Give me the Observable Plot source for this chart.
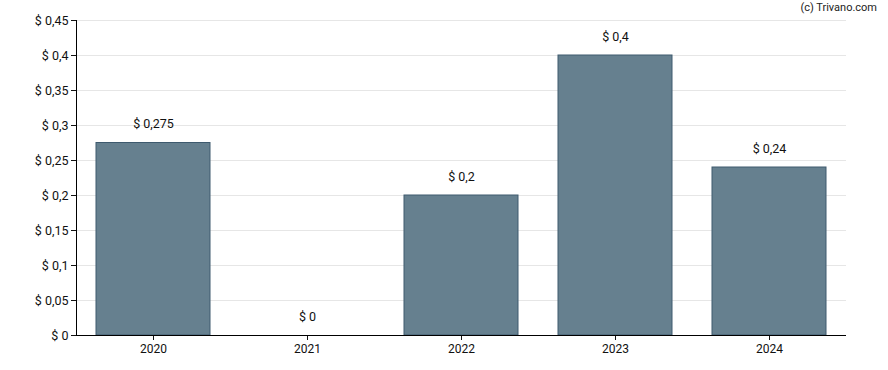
<!DOCTYPE html>
<html>
<head>
<meta charset="utf-8">
<script src="https://cdn.jsdelivr.net/npm/d3@7"></script>
<script src="https://cdn.jsdelivr.net/npm/@observablehq/plot@0.6"></script>
<style>
  html, body { margin: 0; padding: 0; background: #fff; }
  #wrap { position: relative; width: 888px; height: 370px; font-family: Roboto, "Liberation Sans", sans-serif; }
  #credit { position: absolute; right: 11px; top: 1px; font-size: 11px; color: #222; }
  svg { display: block; }
</style>
</head>
<body>
<div id="wrap">
  <div id="credit">(c) Trivano.com</div>
</div>
<script>
const years = ["2020", "2021", "2022", "2023", "2024"];
const dividends = [0.275, 0, 0.2, 0.4, 0.24];
const yTicks = [0, 0.05, 0.1, 0.15, 0.2, 0.25, 0.3, 0.35, 0.4, 0.45];

const data = years.map((y, i) => ({year: y, value: dividends[i]}));
const fmt = v => "$ " + String(+v.toFixed(3)).replace(".", ",");

const chart = Plot.plot({
  width: 888,
  height: 370,
  marginLeft: 76,
  marginRight: 42,
  marginTop: 20,
  marginBottom: 35,
  style: {fontFamily: "Roboto, 'Liberation Sans', sans-serif", fontSize: "12px", color: "#111", background: "#fff"},
  x: {domain: years, paddingInner: 0.26, paddingOuter: 0.13, label: null},
  y: {domain: [0, 0.45], ticks: yTicks, tickFormat: fmt, label: null},
  marks: [
    Plot.gridY(yTicks, {stroke: "#e6e6e6", strokeOpacity: 1}),
    Plot.barY(data, {x: "year", y: "value", fill: "#66808f", stroke: "#3e5a6e", strokeWidth: 1}),
    Plot.text(data, {x: "year", y: "value", text: d => fmt(d.value), dy: -19, fontSize: 12.5, fill: "#111"}),
    Plot.axisY({ticks: yTicks, tickFormat: fmt, tickSize: 5, tickPadding: 3, fontSize: 12.5, label: null}),
    Plot.axisX({tickSize: 5, tickPadding: 4, label: null}),
    Plot.frame({anchor: "left", stroke: "#000"}),
    Plot.ruleY([0], {stroke: "#000"})
  ]
});
document.getElementById("wrap").appendChild(chart);
</script>
</body>
</html>
